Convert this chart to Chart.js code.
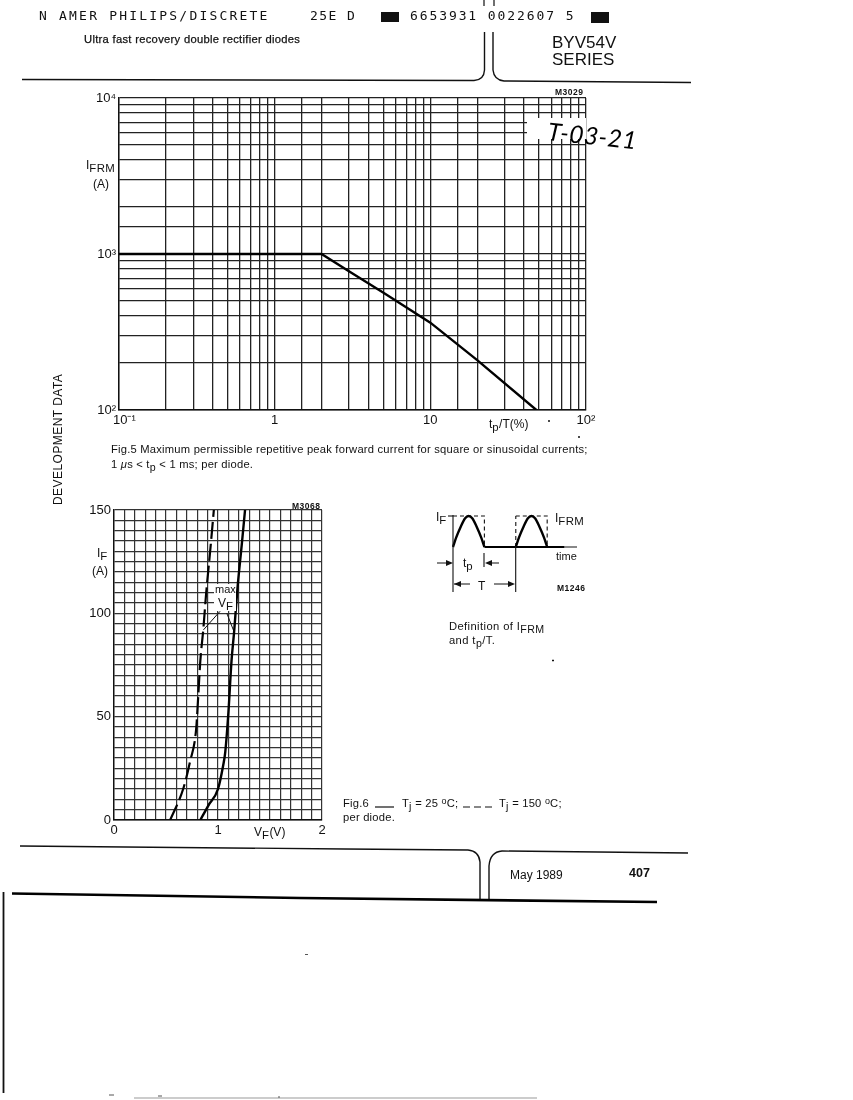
<!DOCTYPE html>
<html>
<head>
<meta charset="utf-8">
<title>BYV54V series</title>
<script src="https://cdn.jsdelivr.net/npm/chart.js@4/dist/chart.umd.min.js"></script>
<style>
html, body { margin: 0; padding: 0; background: #fff; }
#page { position: relative; width: 853px; height: 1100px; overflow: hidden; font-family: "Liberation Sans", sans-serif; color: #111; }
canvas { position: absolute; }
svg { position: absolute; left: 0; top: 0; }
.t { position: absolute; white-space: nowrap; line-height: 1; }
.t sub { font-size: 0.95em; vertical-align: -0.3em; line-height: 0; letter-spacing: 0.4px; }
.t sup { font-size: 0.8em; vertical-align: 0.35em; line-height: 0; }
.mono { font-family: "DejaVu Sans Mono", monospace; font-size: 13px; letter-spacing: 2.2px; }
.code { font-size: 8.5px; font-weight: bold; letter-spacing: 0.5px; }
.lab { font-size: 12px; }
.cap { font-size: 11.2px; letter-spacing: 0.22px; }
.patch { position: absolute; background: #fff; }
</style>
</head>
<body>
<div id="page">
  <canvas id="chart_fig5" width="530" height="350" style="left:80px;top:85px"></canvas>
  <canvas id="chart_fig6" width="260" height="350" style="left:80px;top:495px"></canvas>
  <canvas id="chart_wave" width="140" height="50" style="left:445px;top:505px"></canvas>

  <div class="patch" style="left:527px;top:118px;width:59px;height:21px"></div>
  <div class="patch" style="left:587px;top:110px;width:60px;height:40px"></div>
  <div class="patch" style="left:214px;top:584px;width:22px;height:27px"></div>

  <svg width="853" height="1100" fill="none" stroke="#111">
    <!-- header rule -->
    <path d="M22 79.5 L474 80.5 Q484 80 484.5 70 L484.5 32" stroke-width="1.4"/>
    <path d="M493 32 L493 70 Q494 80 504 81 L691 82.5" stroke-width="1.4"/>
    <path d="M484 0 V6 M494 0 V6" stroke-width="1.2"/>
    <!-- footer rule -->
    <path d="M20 846 L345 849 L468 850 Q479 851 480 862 L480 899" stroke-width="1.4"/>
    <path d="M489 899 L489 866 Q490 852 502 851 L688 853" stroke-width="1.4"/>
    <path d="M12 893.5 L300 898 L657 902" stroke-width="2.6" stroke="#000"/>
    <path d="M3.5 892 V1093" stroke-width="1.8"/>
    <path d="M134 1098 H537" stroke-width="1" stroke="#999"/>
    <path d="M305 954.5 H308 M109 1095 H114 M158 1096 H162 M278 1097 H280" stroke-width="1" stroke="#555"/>
    <path d="M552 660.5 H554 M578 437 H580 M548 421 H550" stroke-width="1.4"/>
    <!-- fig 6 inset dimension marks -->
    <g stroke-width="1.1">
      <path d="M453 515 V592 M515.7 546 V592 M484 553 V567"/>
      <path d="M437 563 H448 M499 563 H489 M454 584 H470 M494 584 H510"/>
      <path d="M448 516 H453"/>
    </g>
    <g fill="#111" stroke="none">
      <path d="M453 563 L446 560 L446 566 Z"/>
      <path d="M485 563 L492 560 L492 566 Z"/>
      <path d="M454 584 L461 581 L461 587 Z"/>
      <path d="M515 584 L508 581 L508 587 Z"/>
    </g>
    <!-- caption line samples -->
    <path d="M375 807 H394" stroke-width="1.2"/>
    <path d="M463 807 H470 M474 807 H481 M485 807 H492" stroke-width="1.2"/>
  </svg>

  <div class="t mono" style="left:39px;top:9px">N AMER PHILIPS/DISCRETE</div>
  <div class="t mono" style="left:310px;top:9px;letter-spacing:1.4px">25E D</div>
  <div class="t" style="left:381px;top:12px;width:18px;height:10px;background:#111"></div>
  <div class="t mono" style="left:410px;top:9px;letter-spacing:1.9px">6653931 0022607 5</div>
  <div class="t" style="left:591px;top:12px;width:18px;height:11px;background:#111"></div>
  <div class="t" style="left:84px;top:34px;font-size:11.2px;letter-spacing:0.3px;-webkit-text-stroke:0.25px #111">Ultra fast recovery double rectifier diodes</div>
  <div class="t" style="left:552px;top:34px;font-size:17px">BYV54V</div>
  <div class="t" style="left:552px;top:51px;font-size:17px">SERIES</div>

  <div class="t code" style="left:555px;top:88px">M3029</div>
  <div class="t" style="left:548px;top:119px;font-family:'Lato',sans-serif;font-style:italic;font-size:24.5px;font-weight:400;letter-spacing:0.5px;color:#000;transform:rotate(6deg);transform-origin:left center">T-03-21</div>
  <div class="t lab" style="left:86px;top:159px">I<sub>FRM</sub></div>
  <div class="t lab" style="left:93px;top:178px">(A)</div>
  <div class="t lab" style="left:489px;top:418px">t<sub>p</sub>/T(%)</div>

  <div class="t cap" style="left:111px;top:444px">Fig.5 Maximum permissible repetitive peak forward current for square or sinusoidal currents;</div>
  <div class="t cap" style="left:111px;top:459px">1 <i>μ</i>s &lt; t<sub>p</sub> &lt; 1 ms; per diode.</div>
  <div class="t" style="left:52px;top:505px;font-size:12px;letter-spacing:0.45px;transform:rotate(-90deg);transform-origin:left top;">DEVELOPMENT DATA</div>

  <div class="t code" style="left:292px;top:502px">M3068</div>
  <div class="t lab" style="left:97px;top:547px">I<sub>F</sub></div>
  <div class="t lab" style="left:92px;top:565px">(A)</div>
  <div class="t" style="left:215px;top:584px;font-size:11px">max</div>
  <div class="t lab" style="left:218px;top:597px">V<sub>F</sub></div>
  <div class="t lab" style="left:254px;top:826px">V<sub>F</sub>(V)</div>

  <div class="t lab" style="left:436px;top:511px">I<sub>F</sub></div>
  <div class="t lab" style="left:555px;top:512px">I<sub>FRM</sub></div>
  <div class="t" style="left:556px;top:551px;font-size:11px">time</div>
  <div class="t lab" style="left:463px;top:557px">t<sub>p</sub></div>
  <div class="t lab" style="left:478px;top:580px">T</div>
  <div class="t code" style="left:557px;top:584px">M1246</div>
  <div class="t cap" style="left:449px;top:621px;letter-spacing:0.4px">Definition of I<sub>FRM</sub></div>
  <div class="t cap" style="left:449px;top:635px;letter-spacing:0.4px">and t<sub>p</sub>/T.</div>

  <div class="t cap" style="left:343px;top:798px">Fig.6</div>
  <div class="t cap" style="left:402px;top:798px">T<sub>j</sub> = 25 <sup>o</sup>C;</div>
  <div class="t cap" style="left:499px;top:798px">T<sub>j</sub> = 150 <sup>o</sup>C;</div>
  <div class="t cap" style="left:343px;top:812px">per diode.</div>

  <div class="t" style="left:510px;top:869px;font-size:12px">May 1989</div>
  <div class="t" style="left:629px;top:867px;font-size:12.5px;font-weight:bold">407</div>
</div>

<script>
// Fig.5 - peak current against duty cycle
const dutyPercent = [0.1, 1, 2, 3, 5, 10, 20, 48];
const peakCurrent = [1000, 1000, 1000, 775, 565, 363, 209, 100];
const fig5XLabels = { 0.1: '   10⁻¹', 1: '1', 10: '10', 100: '10²' };
const fig5YLabels = { 100: '10²', 1000: '10³', 10000: '10⁴' };

// Fig.6 - forward current against forward voltage
const solidVolts = [0.83, 0.907, 1.00, 1.05, 1.07, 1.10, 1.13, 1.155, 1.187, 1.228, 1.26];
const solidAmps = [0, 7, 15, 26.5, 33, 52, 77, 91, 112, 133, 150];
const dashVolts = [0.54, 0.665, 0.73, 0.79, 0.81, 0.83, 0.86, 0.885, 0.93, 0.96];
const dashAmps = [0, 15, 28, 44, 60, 77, 93, 109, 133, 150];
const leaderLeftVolts = [1.02, 0.86];
const leaderLeftAmps = [101, 92];
const leaderRightVolts = [1.085, 1.155];
const leaderRightAmps = [100, 91];
const fig6XLabels = { 0: '0', 1: '1', 2: '2' };
const fig6YLabels = { 0: '0', 50: '50', 100: '100', 150: '150' };

// inset waveform, x in units of tp
const pulseX = [0, 0.1, 0.25, 0.38, 0.5, 0.62, 0.75, 0.9, 1];
const pulseY = [0, 0.3, 0.66, 0.92, 1, 0.92, 0.66, 0.3, 0];
const squareX = [0, 1, 1];
const squareY = [1, 1, 0];
const baseX = [1, 2, 2, 3, 3.55];
const baseY = [0, 0, 0, 0, 0];

const ink = '#111';
const labelFont = { family: '"Liberation Sans", sans-serif', size: 13 };

function zip(xs, ys) {
	return xs.map((x, i) => ({ x: x, y: ys[i] }));
}

function shift(points, dx) {
	return points.map(p => ({ x: p.x + dx, y: p.y }));
}

// forces the plot box to a known place inside the canvas
function fixWidth(w) {
	return scale => { scale.width = w; };
}
function fixHeight(h) {
	return scale => { scale.height = h; };
}

new Chart(document.getElementById('chart_fig5'), {
	type: 'scatter',
	data: {
		datasets: [{
			data: zip(dutyPercent, peakCurrent),
			showLine: true,
			borderColor: '#000',
			borderWidth: 2.4,
			pointRadius: 0,
			tension: 0
		}]
	},
	options: {
		responsive: false,
		animation: false,
		layout: { padding: { top: 13, right: 24, left: 0, bottom: 0 } },
		plugins: { legend: { display: false }, tooltip: { enabled: false } },
		scales: {
			x: {
				type: 'logarithmic',
				min: 0.1,
				max: 100,
				afterFit: fixHeight(25),
				grid: { color: '#222', lineWidth: 1.3, drawTicks: false },
				border: { color: ink, width: 1.4 },
				ticks: {
					autoSkip: false,
					maxRotation: 0,
					padding: 3,
					color: ink,
					font: labelFont,
					callback: v => fig5XLabels[v] || ''
				}
			},
			y: {
				type: 'logarithmic',
				min: 100,
				max: 10000,
				afterFit: fixWidth(39),
				grid: { color: '#222', lineWidth: 1.3, drawTicks: false },
				border: { color: ink, width: 1.4 },
				ticks: {
					autoSkip: false,
					padding: 3,
					color: ink,
					font: labelFont,
					callback: v => fig5YLabels[v] || ''
				}
			}
		}
	}
});

new Chart(document.getElementById('chart_fig6'), {
	type: 'scatter',
	data: {
		datasets: [
			{
				data: zip(solidVolts, solidAmps),
				showLine: true,
				borderColor: '#000',
				borderWidth: 2.4,
				pointRadius: 0,
				cubicInterpolationMode: 'monotone'
			},
			{
				data: zip(dashVolts, dashAmps),
				showLine: true,
				borderColor: '#000',
				borderWidth: 2.2,
				borderDash: [17, 5],
				pointRadius: 0,
				cubicInterpolationMode: 'monotone'
			},
			{
				data: zip(leaderLeftVolts, leaderLeftAmps),
				showLine: true,
				borderColor: ink,
				borderWidth: 1,
				pointRadius: 0
			},
			{
				data: zip(leaderRightVolts, leaderRightAmps),
				showLine: true,
				borderColor: ink,
				borderWidth: 1,
				pointRadius: 0
			}
		]
	},
	options: {
		responsive: false,
		animation: false,
		layout: { padding: { top: 15, right: 18, left: 0, bottom: 0 } },
		plugins: { legend: { display: false }, tooltip: { enabled: false } },
		scales: {
			x: {
				type: 'linear',
				min: 0,
				max: 2,
				afterFit: fixHeight(25),
				grid: { color: '#333', lineWidth: 1.2, drawTicks: false },
				border: { color: ink, width: 1.4 },
				ticks: {
					stepSize: 0.1,
					autoSkip: false,
					maxRotation: 0,
					padding: 3,
					color: ink,
					font: labelFont,
					callback: v => fig6XLabels[Math.round(v * 10) / 10] || ''
				}
			},
			y: {
				type: 'linear',
				min: 0,
				max: 150,
				afterFit: fixWidth(34),
				grid: { color: '#333', lineWidth: 1.2, drawTicks: false },
				border: { color: ink, width: 1.4 },
				ticks: {
					stepSize: 5,
					autoSkip: false,
					padding: 3,
					color: ink,
					font: labelFont,
					callback: v => fig6YLabels[v] || ''
				}
			}
		}
	}
});

const pulse = { showLine: true, borderColor: '#000', borderWidth: 2.4, pointRadius: 0, cubicInterpolationMode: 'monotone', clip: false };
const square = { showLine: true, borderColor: ink, borderWidth: 1.1, borderDash: [4, 3], pointRadius: 0, clip: false };

new Chart(document.getElementById('chart_wave'), {
	type: 'scatter',
	data: {
		datasets: [
			Object.assign({ data: zip(pulseX, pulseY) }, pulse),
			Object.assign({ data: shift(zip(pulseX, pulseY), 2) }, pulse),
			Object.assign({ data: zip(squareX, squareY) }, square),
			Object.assign({ data: shift(zip(squareX, squareY), 2) }, square),
			Object.assign({ data: [{ x: 2, y: 0 }, { x: 2, y: 1 }] }, square),
			{ data: zip(baseX, baseY), showLine: true, borderColor: '#000', borderWidth: 2, pointRadius: 0, clip: false },
			{ data: [{ x: 3.55, y: 0 }, { x: 3.95, y: 0 }], showLine: true, borderColor: ink, borderWidth: 1, pointRadius: 0, clip: false }
		]
	},
	options: {
		responsive: false,
		animation: false,
		layout: { padding: { top: 11, right: 8, left: 8, bottom: 8 } },
		plugins: { legend: { display: false }, tooltip: { enabled: false } },
		scales: {
			x: { type: 'linear', min: 0, max: 3.95, display: false },
			y: { type: 'linear', min: 0, max: 1, display: false }
		}
	}
});
</script>
</body>
</html>
